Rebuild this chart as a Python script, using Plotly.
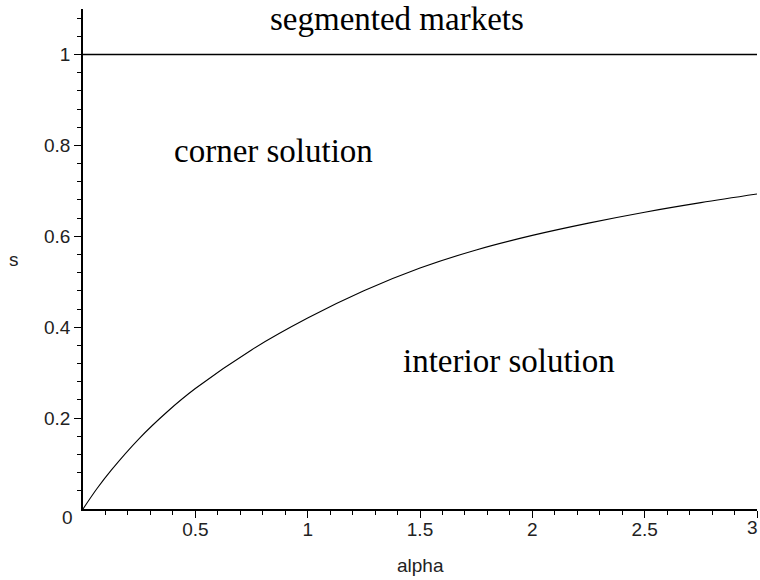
import numpy as np
import plotly.graph_objects as go

# data
alpha = [0, 0.0625, 0.125, 0.25, 0.375, 0.5, 0.75, 1.0, 1.25, 1.5, 1.75, 2.0, 2.25, 2.5, 2.75, 3.0]
s_vals = [0, 0.045, 0.085, 0.155, 0.214, 0.265, 0.35, 0.42, 0.48, 0.53, 0.57, 0.602, 0.629, 0.653, 0.674, 0.693]
seg_x = [0, 3.02]
seg_y = [1, 1]
x_ticks = [0.5, 1, 1.5, 2, 2.5, 3]
x_tick_labels = ["0.5", "1", "1.5", "2", "2.5", ""]
last_x_label = "3"
y_ticks = [0.2, 0.4, 0.6, 0.8, 1]
y_tick_labels = ["0.2", "0.4", "0.6", "0.8", "1"]
labels = ["segmented markets", "corner solution", "interior solution"]
label_x = [1.397, 0.846, 1.896]
label_y = [1.078, 0.788, 0.326]

x_minor = [round(v, 2) for v in np.arange(0.1, 3.0, 0.1) if abs(v / 0.5 - round(v / 0.5)) > 1e-6]
y_minor = [round(v, 2) for v in np.arange(0.04, 1.1, 0.04) if abs(v / 0.2 - round(v / 0.2)) > 1e-6]

fig = go.Figure()
fig.add_trace(go.Scatter(x=alpha, y=s_vals, mode="lines", line=dict(color="black", width=1.1, shape="spline"),
                         showlegend=False, hoverinfo="skip"))
fig.add_trace(go.Scatter(x=seg_x, y=seg_y, mode="lines", line=dict(color="black", width=1.6),
                         showlegend=False, hoverinfo="skip", cliponaxis=False))

tick_font = dict(family="Liberation Sans, Arial, sans-serif", size=19, color="#222")
serif = dict(family="Liberation Serif, Times New Roman, serif", size=33, color="black")

for t, x, y in zip(labels, label_x, label_y):
    fig.add_annotation(x=x, y=y, xref="x", yref="y", text=t, showarrow=False, font=serif,
                       xanchor="center", yanchor="middle")

fig.add_annotation(x=0, y=0, xref="x", yref="y", text="0", showarrow=False, font=tick_font,
                   xshift=-16, yshift=-8, xanchor="center", yanchor="middle")
fig.add_annotation(x=3, y=0, xref="x", yref="y", text=last_x_label, showarrow=False, font=tick_font,
                   xshift=3, yshift=-18, xanchor="right", yanchor="middle")
fig.add_annotation(x=1.5, y=0, xref="x", yref="y", text="alpha", showarrow=False, font=tick_font,
                   yshift=-56, xanchor="center", yanchor="middle")
fig.add_annotation(x=0, y=0.55, xref="x", yref="y", text="s", showarrow=False, font=tick_font,
                   xshift=-69, xanchor="center", yanchor="middle")

fig.update_layout(
    width=760, height=580,
    margin=dict(l=83, r=3, t=9, b=71, autoexpand=False),
    paper_bgcolor="white", plot_bgcolor="white",
    xaxis=dict(range=[0, 3], showgrid=False, zeroline=False, showline=True, linecolor="black", linewidth=1.6,
               ticks="outside", ticklen=7, tickwidth=1.3, tickcolor="black", ticklabelstandoff=-5,
               ticklabeloverflow="allow", automargin=False,
               tickmode="array", tickvals=x_ticks, ticktext=x_tick_labels, tickfont=tick_font,
               minor=dict(tickmode="array", tickvals=x_minor, ticks="outside", ticklen=4, tickwidth=1.2,
                          tickcolor="black", showgrid=False)),
    yaxis=dict(range=[0, 1.1], showgrid=False, zeroline=False, showline=True, linecolor="black", linewidth=1.6,
               ticks="outside", ticklen=7, tickwidth=1.3, tickcolor="black", automargin=False,
               tickmode="array", tickvals=y_ticks, ticktext=y_tick_labels, tickfont=tick_font,
               minor=dict(tickmode="array", tickvals=y_minor, ticks="outside", ticklen=4, tickwidth=1.2,
                          tickcolor="black", showgrid=False)),
)

fig.write_html("out.html", config={"displayModeBar": False},
               post_script="document.body.style.margin='0px';")
